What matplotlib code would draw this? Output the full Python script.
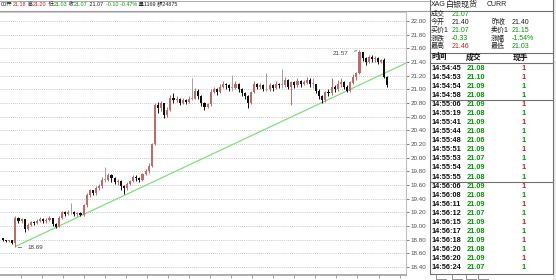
import numpy as np
import matplotlib
matplotlib.use('Agg')
import matplotlib.pyplot as plt

# 分时K线数据 (收盘价 / 最高 / 最低)，开盘价取上一根收盘价
first_open = 18.82
closes = [18.80, 18.78, 18.79, 18.75, 19.12, 19.08, 19.10, 18.96, 19.02, 19.06,
          19.04, 19.08, 19.10, 19.07, 19.09, 19.12, 19.03, 18.99, 19.12, 19.20,
          19.18, 19.20, 19.20, 19.17, 19.19, 19.16, 19.30, 19.45, 19.52, 19.48,
          19.55, 19.58, 19.68, 19.68, 19.74, 19.70, 19.64, 19.66, 19.58, 19.55,
          19.62, 19.66, 19.72, 19.70, 19.68, 19.76, 19.80, 19.88, 20.20, 20.77,
          20.72, 20.80, 20.62, 20.70, 20.88, 20.84, 20.86, 20.80, 20.84, 20.82,
          20.86, 20.86, 20.98, 20.90, 20.80, 20.74, 20.78, 20.96, 21.00, 20.96,
          21.04, 21.08, 21.06, 21.02, 21.02, 21.08, 21.00, 20.94, 20.90, 20.80,
          20.96, 21.08, 21.04, 21.06, 21.00, 21.00, 21.06, 21.02, 21.08, 21.06,
          21.06, 21.14, 21.04, 21.10, 21.06, 21.12, 21.08, 21.10, 21.14, 21.08,
          21.08, 20.98, 20.90, 20.84, 20.96, 20.94, 21.04, 21.00, 21.08, 21.10,
          21.04, 20.98, 21.10, 21.18, 21.24, 21.55, 21.46, 21.40, 21.48, 21.44,
          21.46, 21.40, 21.43, 21.18, 21.07]
highs = [18.83, 18.80, 18.80, 18.79, 19.14, 19.13, 19.12, 19.10, 19.04, 19.08,
         19.08, 19.10, 19.13, 19.11, 19.11, 19.14, 19.12, 19.05, 19.14, 19.22,
         19.22, 19.23, 19.33, 19.22, 19.21, 19.21, 19.32, 19.48, 19.54, 19.53,
         19.58, 19.62, 19.72, 19.86, 19.78, 19.76, 19.72, 19.69, 19.67, 19.60,
         19.64, 19.68, 19.75, 19.74, 19.72, 19.78, 19.84, 19.92, 20.22, 20.80,
         20.82, 20.83, 20.80, 20.74, 20.92, 20.95, 20.90, 20.88, 20.87, 20.86,
         20.90, 21.17, 21.02, 21.00, 20.92, 20.82, 20.80, 21.00, 21.04, 21.02,
         21.08, 21.12, 21.10, 21.08, 21.21, 21.12, 21.10, 21.02, 20.96, 20.92,
         20.98, 21.12, 21.10, 21.10, 21.08, 21.24, 21.10, 21.08, 21.12, 21.10,
         21.30, 21.18, 21.15, 21.12, 21.12, 21.16, 21.14, 21.14, 21.18, 21.16,
         21.16, 21.08, 21.00, 20.92, 20.98, 21.00, 21.16, 21.06, 21.14, 21.17,
         21.12, 21.06, 21.12, 21.22, 21.26, 21.57, 21.53, 21.48, 21.50, 21.50,
         21.49, 21.47, 21.45, 21.46, 21.20]
lows = [18.78, 18.76, 18.76, 18.73, 18.69, 19.05, 19.04, 18.91, 18.94, 19.00,
        19.02, 19.03, 19.06, 19.05, 19.05, 19.07, 19.00, 18.97, 18.98, 19.10,
        19.15, 19.16, 19.17, 19.14, 19.15, 19.14, 19.15, 19.28, 19.42, 19.46,
        19.46, 19.52, 19.56, 19.64, 19.66, 19.65, 19.62, 19.60, 19.53, 19.47,
        19.53, 19.60, 19.64, 19.66, 19.65, 19.66, 19.74, 19.78, 19.86, 20.18,
        20.66, 20.68, 20.58, 20.60, 20.68, 20.80, 20.82, 20.77, 20.78, 20.79,
        20.80, 20.84, 20.86, 20.86, 20.76, 20.70, 20.72, 20.76, 20.94, 20.92,
        20.94, 21.02, 21.00, 20.98, 20.98, 21.00, 20.96, 20.90, 20.86, 20.73,
        20.78, 20.94, 21.00, 21.00, 20.97, 20.98, 20.98, 20.98, 21.00, 21.02,
        21.02, 21.04, 21.00, 20.77, 21.02, 21.04, 21.04, 21.06, 21.08, 21.04,
        21.02, 20.94, 20.86, 20.80, 20.82, 20.90, 20.92, 20.96, 20.98, 21.04,
        21.00, 20.96, 20.96, 21.08, 21.14, 21.22, 21.42, 21.36, 21.38, 21.40,
        21.40, 21.37, 21.38, 21.16, 21.03]

# 趋势线两个端点 (K线序号, 价格)
trend_x = [4.0, 130.3]
trend_y = [18.70, 21.39]

low_label = 18.69
high_label = 21.57

# 右侧行情信息
info_rows = [
    ('今开', '21.40', 'k', '昨收', '21.40', 'k'),
    ('买价1', '21.07', 'g', '卖价1', '21.15', 'g'),
    ('涨跌', '-0.33', 'g', '涨幅', '-1.54%', 'g'),
    ('最高', '21.46', 'r', '最低', '21.03', 'g'),
]
last_price = '21.07'

# 成交明细
tick_times = ['14:54:45', '14:54:53', '14:54:54', '14:54:58', '14:55:06', '14:55:19',
              '14:55:41', '14:55:44', '14:55:48', '14:55:51', '14:55:53', '14:55:54',
              '14:55:55', '14:56:06', '14:56:08', '14:56:11', '14:56:12', '14:56:15',
              '14:56:17', '14:56:18', '14:56:20', '14:56:20', '14:56:24']
tick_prices = ['21.08', '21.10', '21.09', '21.08', '21.09', '21.08', '21.09', '21.08',
               '21.06', '21.09', '21.07', '21.09', '21.08', '21.09', '21.08', '21.09',
               '21.07', '21.09', '21.08', '21.09', '21.08', '21.09', '21.07']
tick_vols = [1] * 23
tick_sides = ['r', 'r', 'g', 'g', 'r', 'g', 'r', 'g', 'g', 'r', 'g', 'r',
              'g', 'r', 'g', 'r', 'g', 'r', 'g', 'r', 'g', 'r', 'g']

RED = '#c81e1e'
GREEN = '#009a00'
COLS = {'r': RED, 'g': GREEN, 'k': '#202020'}
UP = '#c06a6a'
DOWN = '#101010'
FLAT = '#a0a0a0'

W, H = 556, 280
fig = plt.figure(figsize=(W / 100, H / 100), dpi=100)
fig.patch.set_facecolor('white')

# 像素坐标的覆盖层
ov = fig.add_axes([0, 0, 1, 1])
ov.set_xlim(0, W)
ov.set_ylim(H, 0)
ov.axis('off')

# 主图：像素 x = 3 + 3.1*i，y: 22.00 在 21px，18.40 在 267px
PX = 3.1
ppu = 246 / 3.6
ax = fig.add_axes([0, (H - 275) / H, 406 / W, (275 - 12) / H])
ax.set_facecolor('none')
ax.set_xlim(-3 / PX, 403 / PX)
ax.set_ylim(18.40 - 8 / ppu, 22.00 + 9 / ppu)

closes = np.array(closes)
highs = np.array(highs)
lows = np.array(lows)
opens = np.concatenate([[first_open], closes[:-1]])
idx = np.arange(len(closes))

for i in idx:
    o, c = opens[i], closes[i]
    if abs(c - o) < 0.005:
        col = FLAT
    elif c > o:
        col = UP
    else:
        col = DOWN
    ax.vlines(i, lows[i], highs[i], color=col, lw=0.7, zorder=3)
    ax.bar(i, max(abs(c - o), 0.012), bottom=min(o, c), width=0.68,
           color=col, lw=0, zorder=3)

ax.plot(trend_x, trend_y, color='#7ee07e', lw=0.9, zorder=2)

levels = np.arange(18.40, 22.001, 0.2)
for lv in levels:
    ax.axhline(lv, color='#b8b8b8', lw=0.6, ls=(0, (1, 1.5)), zorder=1)

ax.yaxis.tick_right()
ax.set_yticks(levels)
ax.set_yticklabels(['%.2f' % v for v in levels])
ax.tick_params(axis='y', length=2, pad=1, labelsize=4.5, colors='#505050',
               width=0.5)
for lab in ax.get_yticklabels():
    lab.set_family('Liberation Sans')

tick_px = np.arange(20.7, 400, 21.05)
ax.set_xticks((tick_px - 3) / PX)
ax.set_xticklabels([])
ax.tick_params(axis='x', length=2, width=0.6, colors='#909090')

ax.spines['left'].set_visible(False)
ax.spines['top'].set_color('#c0c0c0')
ax.spines['top'].set_linewidth(0.6)
ax.spines['right'].set_color('#c0c0c0')
ax.spines['right'].set_linewidth(0.8)
ax.spines['bottom'].set_color('#a0a0a0')
ax.spines['bottom'].set_linewidth(1.2)

# 最低/最高标注
i_low = int(np.argmin(lows))
i_high = int(np.argmax(highs))
ax.annotate('%.2f' % low_label, xy=(i_low, lows[i_low]),
            xytext=(i_low + 3.8, lows[i_low] - 0.01), fontsize=4.5,
            family='Liberation Sans', color='#404040', va='center',
            arrowprops=dict(arrowstyle='-', color='#404040', lw=0.5))
ax.annotate('%.2f' % high_label, xy=(i_high, highs[i_high]),
            xytext=(i_high - 8.5, highs[i_high] - 0.04), fontsize=4.5,
            family='Liberation Sans', color='#404040', va='center',
            arrowprops=dict(arrowstyle='-', color='#404040', lw=0.5))

# 顶部信息条
fam = ['Liberation Sans', 'Noto Sans CJK SC']
hdr = [('00开', 'k'), ('%.2f' % opens[-1], 'r'), (' 高', 'k'), ('%.2f' % highs[-1], 'r'),
       (' 低', 'k'), ('%.2f' % lows[-1], 'g'), (' 收', 'k'), ('%.2f' % closes[-1], 'g'),
       (' 21.07', 'k'), ('  -0.10 -0.47%', 'g'), (' 量1169 额24875', 'k')]
xp = 1.0
r = fig.canvas.get_renderer()
for txt, c in hdr:
    t = ov.text(xp, 4.5, txt, fontsize=3.9, family=fam, color=COLS[c],
                va='center', ha='left')
    bb = t.get_window_extent(renderer=r)
    xp += bb.width
ov.plot([0, 430], [10.5, 10.5], color='#a0a0a0', lw=0.8)
ov.plot([0, 430], [0.5, 0.5], color='#a0a0a0', lw=0.6)

# 右侧面板
ov.plot([429.5, 429.5], [0, 274], color='#707070', lw=0.8)
ov.plot([552.5, 552.5], [0, 274], color='#707070', lw=0.8)
ov.plot([429.5, 552.5], [274, 274], color='#707070', lw=0.8)
ov.add_patch(plt.Rectangle((553, 0), 3, 280, color='#ececec', lw=0))
for yy in [10.5, 52.5, 63]:
    ov.plot([429.5, 552.5], [yy, yy], color='#707070', lw=0.8)

ov.text(431, 5, 'XAG', fontsize=5, family=fam, va='center', color='#202020')
ov.text(446, 5, '白银现货', fontsize=5.8, family=fam, va='center', color='#202020')
ov.text(487, 5, 'CURR', fontsize=5, family=fam, va='center', color='#202020')

ov.text(431, 14, '成交', fontsize=5, family=fam, va='center', color='#202020')
ov.text(452, 14, last_price, fontsize=5, family=fam, va='center', color=GREEN)
info_y = [22.7, 30.7, 39, 46.7]
for yy, (l1, v1, c1, l2, v2, c2) in zip(info_y, info_rows):
    ov.text(431, yy, l1, fontsize=5, family=fam, va='center', color='#202020')
    ov.text(452, yy, v1, fontsize=5, family=fam, va='center', color=COLS[c1])
    ov.text(491, yy, l2, fontsize=5, family=fam, va='center', color='#202020')
    ov.text(512, yy, v2, fontsize=5, family=fam, va='center', color=COLS[c2])

ov.text(431, 57.5, '时间', fontsize=5.6, family=fam, va='center', weight='bold',
        color='#101010')
ov.text(466, 57.5, '成交', fontsize=5.6, family=fam, va='center', weight='bold',
        color='#101010')
ov.text(513, 57.5, '现手', fontsize=5.6, family=fam, va='center', weight='bold',
        color='#101010')

row_y = 68 + 9.09 * np.arange(len(tick_times))
for yy, tm, pr, v, sd in zip(row_y, tick_times, tick_prices, tick_vols, tick_sides):
    ov.text(432, yy, tm, fontsize=5.3, family='Liberation Sans', weight='bold',
            va='center', color='#101010')
    ov.text(467, yy, pr, fontsize=5.3, family='Liberation Sans', weight='bold',
            va='center', color=GREEN)
    ov.text(524, yy, str(v), fontsize=5.3, family='Liberation Sans', weight='bold',
            va='center', ha='center', color=COLS[sd])
for k in [4, 13]:
    yy = (row_y[k - 1] + row_y[k]) / 2
    ov.plot([429.5, 552.5], [yy, yy], color='#707070', lw=0.8)

# 底部标签页
for x0 in [436, 452, 466, 478]:
    ov.plot([x0, x0, x0 + 10], [275, 279, 279], color='#808080', lw=0.6)

fig.savefig('out.png', dpi=100, facecolor='white')
